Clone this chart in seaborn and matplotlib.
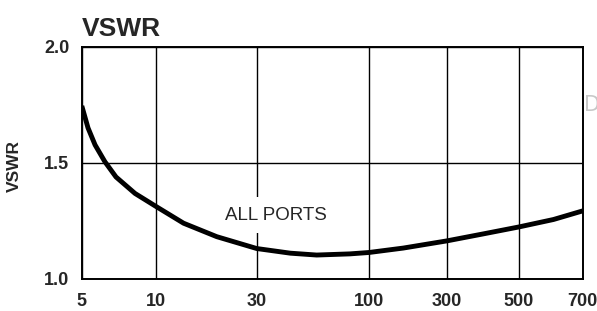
import numpy as np
import pandas as pd
import matplotlib
matplotlib.use("Agg")
import matplotlib.pyplot as plt
import seaborn as sns

# ------------------------------------------------------------
# data
# ------------------------------------------------------------
freq_mhz = [5, 5.3, 5.66, 6.2, 6.88, 8.22, 10, 13.5, 19.4, 30, 43, 57, 81.5,
            100, 162, 300, 388, 500, 600, 700]
vswr = [1.745, 1.650, 1.577, 1.505, 1.439, 1.368, 1.312, 1.240, 1.182, 1.131,
        1.111, 1.103, 1.108, 1.114, 1.133, 1.164, 1.194, 1.224, 1.256, 1.293]

x_ticks = [5, 10, 30, 100, 300, 500, 700]
x_tick_labels = ["5", "10", "30", "100", "300", "500", "700"]
y_ticks = [1.0, 1.5, 2.0]
y_tick_labels = ["1.0", "1.5", "2.0"]

# ------------------------------------------------------------
# hand-drawn frequency axis: gridlines are not evenly spaced in log
# ------------------------------------------------------------
log_ticks = np.log10(x_ticks)
tick_pos = np.array([0, 0.1483, 0.3493, 0.5735, 0.7291, 0.8729, 1.0])


def fwd(x):
    x = np.clip(np.asarray(x, dtype=float), 1e-9, None)
    return np.interp(np.log10(x), log_ticks, tick_pos)


def inv(p):
    return 10 ** np.interp(np.asarray(p, dtype=float), tick_pos, log_ticks)


sns.set_style("white")
plt.rcParams["font.family"] = ["Liberation Sans", "DejaVu Sans"]

df = pd.DataFrame({"freq": freq_mhz, "vswr": vswr})

fig = plt.figure(figsize=(5.97, 3.11), dpi=100)
ax = fig.add_axes([0.137, 0.103, 0.839, 0.747])
ax.set_xscale("function", functions=(fwd, inv))

sns.lineplot(data=df, x="freq", y="vswr", ax=ax, color="black",
             linewidth=3.5, estimator=None, sort=False, zorder=4,
             solid_joinstyle="round", solid_capstyle="butt")

ax.set_xlim(5, 700)
ax.set_ylim(1.0, 2.0)

ax.set_xticks(x_ticks)
ax.set_xticklabels(x_tick_labels)
ax.set_yticks(y_ticks)
ax.set_yticklabels(y_tick_labels)
ax.xaxis.set_minor_locator(matplotlib.ticker.NullLocator())
ax.tick_params(axis="both", length=0, labelsize=13)
ax.tick_params(axis="x", pad=10)
ax.tick_params(axis="y", pad=9)
for lab in ax.get_xticklabels() + ax.get_yticklabels():
    lab.set_fontweight("bold")

ax.grid(True, color="black", linewidth=1.0)
for s in ax.spines.values():
    s.set_color("black")
    s.set_linewidth(1.4)
    s.set_visible(True)

ax.set_xlabel("")
ax.set_ylabel("VSWR", fontsize=12.5, fontweight="bold")
ax.yaxis.set_label_coords(-0.12, 0.486)

ax.set_title("VSWR", loc="left", fontsize=19, fontweight="bold", pad=8)

ax.text(37, 1.275, "ALL PORTS", fontsize=13.5, ha="center", va="center",
        zorder=3, bbox=dict(boxstyle="square,pad=0.5", fc="white", ec="none"))

fig.text(584 / 597, 1 - 105 / 311, "D", fontsize=15, color="#c8c8c8",
         ha="left", va="center", family="DejaVu Sans")

fig.savefig("out.png", dpi=100)
